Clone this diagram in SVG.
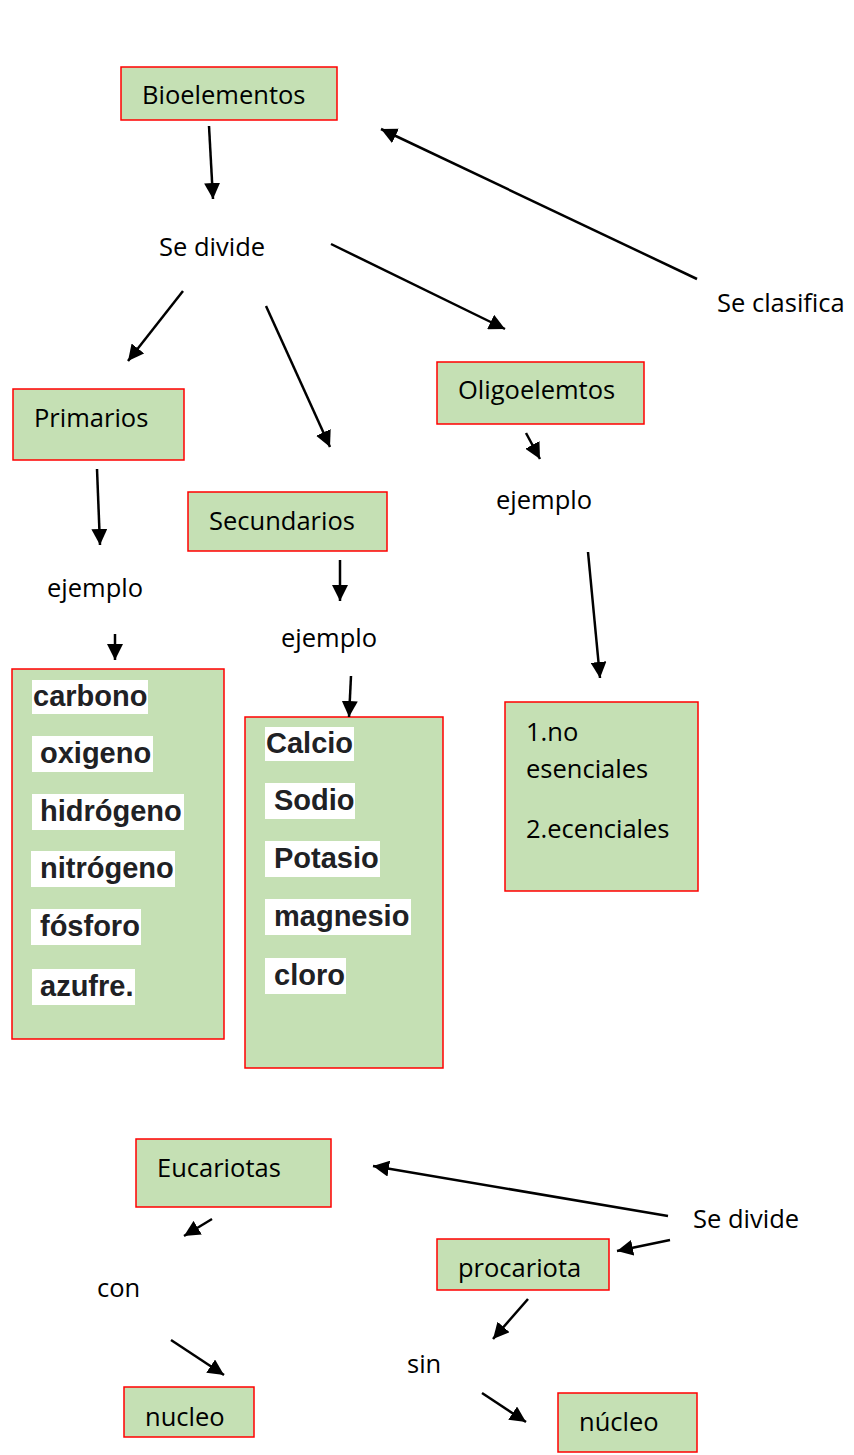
<svg xmlns="http://www.w3.org/2000/svg" width="854" height="1455" viewBox="0 0 854 1455">
<style>
.box{fill:#C5E0B4;stroke:#FF0000;stroke-width:1.5}
.lbl{font-family:"Open Sans","Noto Sans",sans-serif;font-size:25.5px;fill:#000}
.hl{fill:#FFFFFF}
.bt{font-family:"Liberation Sans",Arial,sans-serif;font-weight:bold;font-size:29px;fill:#202124}
.con line{stroke:#000;stroke-width:2.5;marker-end:url(#ah)}
</style>
<defs>
<marker id="ah" markerUnits="userSpaceOnUse" markerWidth="17" markerHeight="16" refX="16" refY="8" orient="auto">
<path d="M0,0 L16,8 L0,16 z" fill="#000"/>
</marker>
</defs>
<rect width="854" height="1455" fill="#fff"/>

<g id="bioelementos"><rect class="box" x="121" y="67" width="216" height="53"/><text class="lbl" x="142" y="104">Bioelementos</text></g>
<g id="se-divide-1"><text class="lbl" x="159" y="256">Se divide</text></g>
<g id="se-clasifica"><text class="lbl" x="717" y="312">Se clasifica</text></g>
<g id="primarios"><rect class="box" x="13" y="389" width="171" height="71"/><text class="lbl" x="34" y="427">Primarios</text></g>
<g id="oligoelemtos"><rect class="box" x="437" y="362" width="207" height="62"/><text class="lbl" x="458" y="399">Oligoelemtos</text></g>
<g id="secundarios"><rect class="box" x="188" y="492" width="199" height="59"/><text class="lbl" x="209" y="530">Secundarios</text></g>
<g id="ejemplo-1"><text class="lbl" x="47" y="597">ejemplo</text></g>
<g id="ejemplo-2"><text class="lbl" x="281" y="647">ejemplo</text></g>
<g id="ejemplo-3"><text class="lbl" x="496" y="509">ejemplo</text></g>

<g id="lista-primarios">
<rect class="box" x="12" y="669" width="212" height="370"/>
<rect class="hl" x="32" y="680" width="116" height="34"/><text class="bt" x="33" y="706">carbono</text>
<rect class="hl" x="32" y="736" width="121" height="36"/><text class="bt" x="40" y="763">oxigeno</text>
<rect class="hl" x="32" y="794" width="152" height="36"/><text class="bt" x="40" y="821">hidrógeno</text>
<rect class="hl" x="31" y="851" width="144" height="36"/><text class="bt" x="40" y="878">nitrógeno</text>
<rect class="hl" x="31" y="909" width="110" height="36"/><text class="bt" x="40" y="936">fósforo</text>
<rect class="hl" x="32" y="969" width="103" height="36"/><text class="bt" x="40" y="996">azufre.</text>
</g>

<g id="lista-secundarios">
<rect class="box" x="245" y="717" width="198" height="351"/>
<rect class="hl" x="265" y="727" width="89" height="34"/><text class="bt" x="266" y="753">Calcio</text>
<rect class="hl" x="265" y="783" width="90" height="36"/><text class="bt" x="274" y="810">Sodio</text>
<rect class="hl" x="265" y="841" width="115" height="36"/><text class="bt" x="274" y="868">Potasio</text>
<rect class="hl" x="265" y="899" width="146" height="36"/><text class="bt" x="274" y="926">magnesio</text>
<rect class="hl" x="265" y="958" width="81" height="36"/><text class="bt" x="274" y="985">cloro</text>
</g>

<g id="lista-oligo">
<rect class="box" x="505" y="702" width="193" height="189"/>
<text class="lbl" x="526" y="741">1.no</text>
<text class="lbl" x="526" y="778">esenciales</text>
<text class="lbl" x="526" y="838">2.ecenciales</text>
</g>

<g id="eucariotas"><rect class="box" x="136" y="1139" width="195" height="68"/><text class="lbl" x="157" y="1177">Eucariotas</text></g>
<g id="se-divide-2"><text class="lbl" x="693" y="1228">Se divide</text></g>
<g id="procariota"><rect class="box" x="437" y="1239" width="172" height="51"/><text class="lbl" x="458" y="1277">procariota</text></g>
<g id="con"><text class="lbl" x="97" y="1297">con</text></g>
<g id="sin"><text class="lbl" x="407" y="1373">sin</text></g>
<g id="nucleo"><rect class="box" x="124" y="1387" width="130" height="50"/><text class="lbl" x="145" y="1426">nucleo</text></g>
<g id="nucleo-2"><rect class="box" x="558" y="1393" width="139" height="59"/><text class="lbl" x="579" y="1431">núcleo</text></g>

<g id="connectors" class="con">
<line x1="209" y1="126" x2="213" y2="199"/>
<line x1="697" y1="279" x2="381" y2="129"/>
<line x1="183" y1="291" x2="128" y2="361"/>
<line x1="266" y1="306" x2="330" y2="447"/>
<line x1="331" y1="244" x2="505" y2="329"/>
<line x1="97" y1="469" x2="100" y2="545"/>
<line x1="340" y1="560" x2="340" y2="601"/>
<line x1="115" y1="634" x2="115" y2="660"/>
<line x1="351" y1="676" x2="349" y2="717"/>
<line x1="526" y1="433" x2="540" y2="459"/>
<line x1="588" y1="552" x2="600" y2="678"/>
<line x1="668" y1="1216" x2="373" y2="1166"/>
<line x1="670" y1="1240" x2="617" y2="1251"/>
<line x1="212" y1="1219" x2="184" y2="1236"/>
<line x1="171" y1="1340" x2="224" y2="1375"/>
<line x1="528" y1="1299" x2="493" y2="1339"/>
<line x1="482" y1="1393" x2="526" y2="1422"/>
</g>
</svg>
